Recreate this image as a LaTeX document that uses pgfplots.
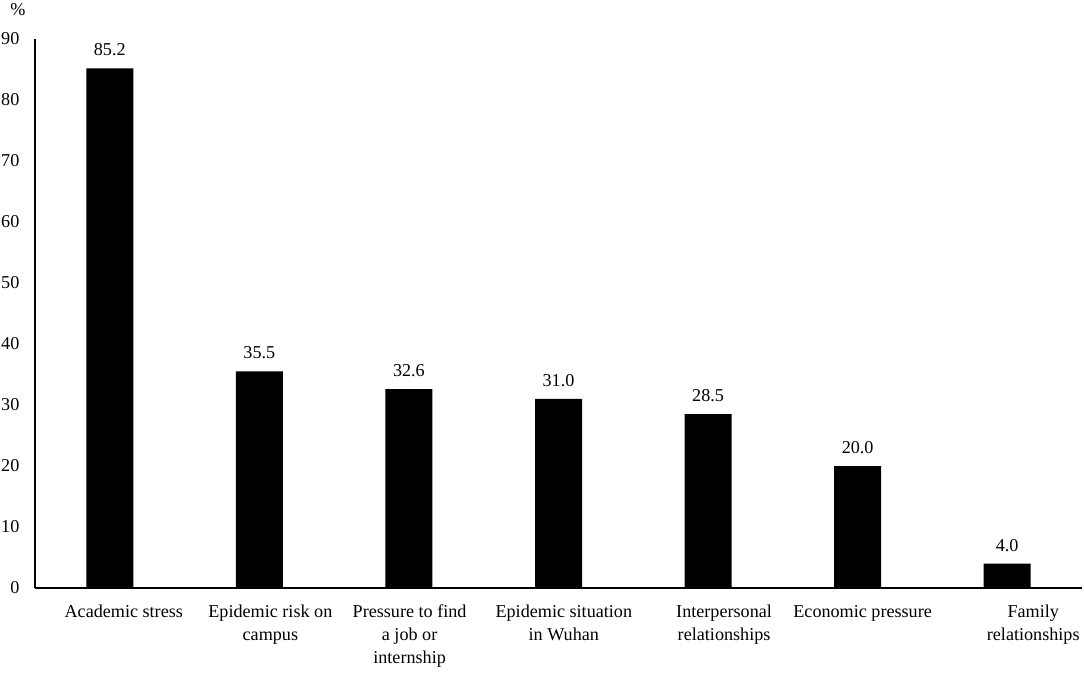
\documentclass[border=0pt]{standalone}
\usepackage{pgfplots}
\pgfplotsset{compat=1.18}
\usepackage{fontspec}
\setmainfont{Liberation Serif}
\newcommand\shiftlabel[2]{\hspace*{#1}\begin{tabular}{@{}c@{}}#2\end{tabular}}
\begin{document}
\fontsize{13.6pt}{17.25pt}\selectfont
\begin{tikzpicture}
\useasboundingbox (-26.25pt,-70.5pt) rectangle (786.75pt,441pt);
\begin{axis}[
  at={(0pt,0pt)}, anchor=south west,
  scale only axis, width=785.25pt, height=411.75pt,
  xmin=-0.5, xmax=6.5, ymin=0, ymax=90,
  axis x line*=bottom, axis y line*=left,
  axis line style={-, line width=0.9pt, black},
  ytick={0,10,...,90}, xtick={0,...,6},
  major tick length=0pt,
  /pgf/number format/assume math mode=true,
  yticklabel style={anchor=east, xshift=-7pt},
  xticklabel style={anchor=north, yshift=-5pt},
  xticklabels={
    {\shiftlabel{21pt}{Academic stress}},
    {\shiftlabel{16.5pt}{Epidemic risk on\\campus}},
    {\shiftlabel{1pt}{Pressure to find\\a job or\\internship}},
    {\shiftlabel{8pt}{Epidemic situation\\in Wuhan}},
    {\shiftlabel{24pt}{Interpersonal\\relationships}},
    {\shiftlabel{7.5pt}{Economic pressure}},
    {\shiftlabel{39pt}{Family\\relationships}}},
  ybar, bar width=35.25pt,
  nodes near coords={\pgfmathprintnumber[fixed,fixed zerofill,precision=1,assume math mode=true]{\pgfplotspointmeta}},
  nodes near coords style={anchor=south, yshift=4.5pt, black},
  clip=false,
]
\addplot[fill=black, draw=none] coordinates {
  (0,85.2) (1,35.5) (2,32.6) (3,31.0) (4,28.5) (5,20.0) (6,4.0)};
\end{axis}
\node at (-12.75pt,433.5pt) {\%};
\end{tikzpicture}
\end{document}
